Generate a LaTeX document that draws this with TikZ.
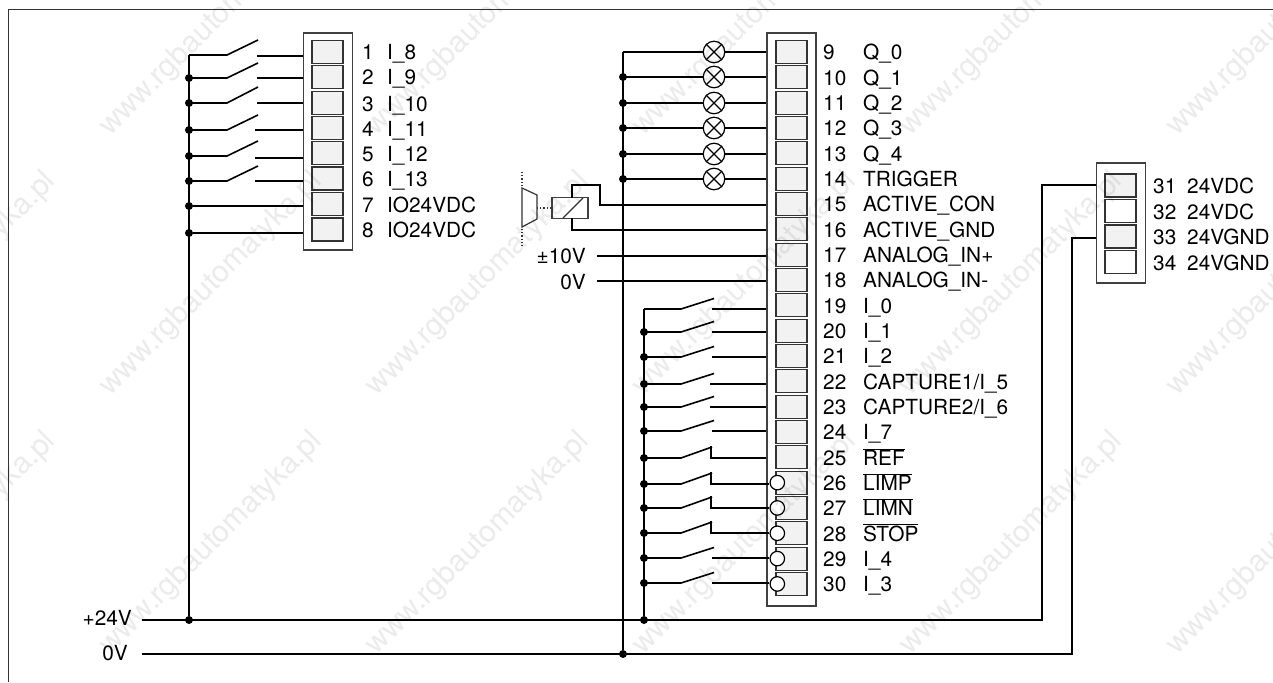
\documentclass[tikz,border=0pt]{standalone}
\usepackage{fontspec}
\setmainfont{TeX Gyre Heros}
\usepackage{tikz}
\usetikzlibrary{positioning}
\tikzstyle{block} = [rectangle, draw=black!75, fill=white, line width=1.2pt, inner sep=0pt, minimum width=49pt]
\tikzstyle{cell} = [rectangle, draw=black!80, fill=black!5, line width=1.1pt, inner sep=0pt, minimum width=31pt, minimum height=23pt]
\tikzstyle{line} = [draw, line width=1.6pt]
\tikzstyle{thinline} = [draw=black!80, line width=1.2pt]
\tikzstyle{dotline} = [draw=black!80, line width=1.2pt, dotted]
\tikzstyle{junction} = [circle, fill=black, inner sep=0pt, minimum size=8pt]
\tikzstyle{lamp} = [circle, draw, fill=white, line width=1.2pt, inner sep=0pt, minimum size=21.5pt]
\tikzstyle{nccircle} = [circle, draw, fill=white, line width=1.2pt, inner sep=0pt, minimum size=14.5pt]
\tikzstyle{relaybox} = [rectangle, draw=black!75, fill=white, line width=1.3pt, inner sep=0pt, minimum width=36pt, minimum height=20.5pt]
\tikzstyle{pinlabel} = [anchor=base west, inner sep=0pt, font=\fontsize{20.8}{24}\selectfont]
\tikzstyle{supply} = [anchor=base east, inner sep=0pt, font=\fontsize{20.8}{24}\selectfont]
\tikzstyle{stamp} = [inner sep=0pt, rotate=45, anchor=base west, text=black, text opacity=0.08, font=\fontsize{30}{32}\selectfont]

\begin{document}
\begin{tikzpicture}[x=1pt,y=-1pt]
    \useasboundingbox (0,0) rectangle (1273,682);
    \fill[white] (0,0) rectangle (1273,682);
    % Frame
    \path [thinline] (1273,9.5) -- (8.5,9.5) -- (8.5,682);
    % Place terminal blocks
    \node [block, minimum height=217pt] (bankA) at (328,141.5) {};
    \node [block, minimum height=573pt] (bankB) at (791.5,319.5) {};
    \node [block, minimum height=120pt] (bankC) at (1121,223) {};
    \foreach \n/\y in {1/52,2/77,3/103,4/128,5/153,6/178.5,7/204,8/229.5}
        \node [cell] (cell\n) at (327.5,\y) {};
    \foreach \n in {9,...,30}
        \node [cell] (cell\n) at (791.5,{52+25.33*(\n-9)}) {};
    \foreach \n/\y/\c in {31/185.5/black!5,32/211/white,33/236.5/black!5,34/262/white}
        \node [cell, fill=\c] (cell\n) at (1120.5,\y) {};
    % Pin labels
    \foreach \n/\t in {1/I\_8,2/I\_9,3/I\_10,4/I\_11,5/I\_12,6/I\_13,7/IO24VDC,8/IO24VDC}{
        \path (cell\n) ++(34.5,8) node [pinlabel] (num\n) {\n};
        \path (cell\n) ++(59.5,8) node [pinlabel] (name\n) {\t};
    }
    \foreach \n/\t in {9/Q\_0,10/Q\_1,11/Q\_2,12/Q\_3,13/Q\_4,14/TRIGGER,15/ACTIVE\_CON,16/ACTIVE\_GND,
        17/ANALOG\_IN+,18/ANALOG\_IN-,19/I\_0,20/I\_1,21/I\_2,22/{CAPTURE1/I\_5},23/{CAPTURE2/I\_6},24/I\_7,
        25/{$\overline{\mbox{REF}}$},26/{$\overline{\mbox{LIMP}}$},27/{$\overline{\mbox{LIMN}}$},28/{$\overline{\mbox{STOP}}$},29/I\_4,30/I\_3}{
        \path (cell\n) ++(31.5,8) node [pinlabel] (num\n) {\n};
        \path (cell\n) ++(71.5,8) node [pinlabel] (name\n) {\t};
    }
    \foreach \n/\t in {31/24VDC,32/24VDC,33/24VGND,34/24VGND}{
        \path (cell\n) ++(32.5,8) node [pinlabel] (num\n) {\n};
        \path (cell\n) ++(66.5,8) node [pinlabel] (name\n) {\t};
    }
    % Supply rails
    \coordinate (railP) at (142,620);
    \coordinate (railN) at (142,654);
    \node [supply] (labelP) at (132,625) {+24V};
    \node [supply] (labelN) at (128,660) {0V};
    \coordinate (upP) at (1042,620);
    \coordinate (upN) at (1072,654);
    \path [line] (railP) -- (upP) |- (bankC.west |- 0,185);
    \path [line] (railN) -- (upN) |- (bankC.west |- 0,238);
    % Left switches
    \coordinate (busA) at (189,55);
    \node [junction] (dotA) at (189,620) {};
    \path [line] (busA) -- (dotA);
    \foreach \n/\yw/\ys/\xs/\yt in {1/55/56/257/40,2/78/78/257/63,3/103/103/257/87,4/130/130/255/115,5/156/158/255/141,6/181/181/255/166}{
        \coordinate (swA\n) at (227,\yw);
        \coordinate (tipA\n) at (258,\yt);
        \coordinate (stubA\n) at (\xs,\ys);
        \path [line] (busA |- swA\n) -- (swA\n) -- (tipA\n);
        \path [line] (stubA\n) -- (stubA\n -| bankA.west);
    }
    \foreach \n/\yw in {2/78,3/103,4/130,5/156,6/181,7/206,8/233}
        \node [junction] (dotA\n) at (189,\yw) {};
    \path [line] (dotA7) -- (dotA7 -| bankA.west);
    \path [line] (dotA8) -- (dotA8 -| bankA.west);
    % Lamps
    \coordinate (busC) at (623,52);
    \node [junction] (dotC) at (623,654) {};
    \path [line] (busC) -- (dotC);
    \foreach \n/\y in {9/52,10/77,11/103,12/128,13/154,14/179}{
        \node [lamp] (lamp\n) at (714,\y) {};
        \path [line] (busC |- lamp\n) -- (lamp\n);
        \path [line] (lamp\n) -- (lamp\n -| bankB.west);
        \draw [line width=1.2pt] (lamp\n.north west) -- (lamp\n.south east);
        \draw [line width=1.2pt] (lamp\n.north east) -- (lamp\n.south west);
    }
    \foreach \n/\y in {10/77,11/103,12/128,13/154,14/179}
        \node [junction] (dotC\n) at (623,\y) {};
    % Relay and valve
    \node [relaybox] (relay) at (570,208) {};
    \coordinate (in15) at (572,198);
    \coordinate (in16) at (572,218);
    \coordinate (wire15) at (600,205);
    \path [line] (in15) -- (572,185) -| (wire15) -- (wire15 -| bankB.west);
    \path [line] (in16) |- (bankB.west |- 0,230);
    \path [thinline] (563,218) -- (583,198);
    \path [thinline] (522,188) -- (537,195) -- (537,219) -- (522,227) -- cycle;
    \path [dotline] (537,208) -- (relay.west);
    \path [dotline] (522,172) -- (522,187);
    \path [dotline] (522,229) -- (522,247);
    % Analog inputs
    \node [supply] (labelA) at (586,263) {±10V};
    \node [supply] (labelB) at (586,289) {0V};
    \coordinate (ana17) at (597,256);
    \coordinate (ana18) at (597,281);
    \path [line] (ana17) -- (ana17 -| bankB.west);
    \path [line] (ana18) -- (ana18 -| bankB.west);
    % Lower switches
    \coordinate (busB) at (644,309);
    \node [junction] (dotB) at (644,620) {};
    \path [line] (busB) -- (dotB);
    \foreach \n in {26,...,30}
        \node [nccircle] (nc\n) at (777.3,{52+25.33*(\n-9)}) {};
    % open contacts, stub ends on bank or on circle
    \foreach \n/\y/\ys/\xs/\e in {19/309/309/712/bankB.west,20/332/332/712/bankB.west,21/357/357/712/bankB.west,22/384/384/710/bankB.west,23/407/407/710/bankB.west,24/431/431/712/bankB.west,29/558/558/712/nc29.west,30/583/583/712/nc30.west}{
        \coordinate (swB\n) at (681,\y);
        \coordinate (tipB\n) at (714,\y-10.5);
        \coordinate (stubB\n) at (\xs,\ys);
        \path [line] (busB |- swB\n) -- (swB\n) -- (tipB\n);
        \path [line] (stubB\n) -- (stubB\n -| \e);
    }
    % closed contacts
    \foreach \n/\y/\e in {25/458/bankB.west,26/484/nc26.west,27/508/nc27.west,28/533/nc28.west}{
        \coordinate (swB\n) at (681,\y);
        \coordinate (tipB\n) at (712,\y-11);
        \coordinate (stubB\n) at (711,\y-12);
        \path [line] (busB |- swB\n) -- (swB\n) -- (tipB\n);
        \path [line] (stubB\n) -- (711,\y) -- (swB\n -| \e);
    }
    \foreach \n/\y in {20/332,21/357,22/384,23/407,24/431,25/458,26/484,27/508,28/533,29/558,30/583}
        \node [junction] (dotB\n) at (644,\y) {};
    % Watermark
    \begin{scope}
        \clip (0,0) rectangle (1273,682);
        \foreach \i in {-1,...,4}
            \foreach \j in {0,1,2}
                \node [stamp] (stamp\i\j) at ({110+266.75*\i},{137+259.5*\j}) {www.rgbautomatyka.pl};
    \end{scope}
\end{tikzpicture}
\end{document}
